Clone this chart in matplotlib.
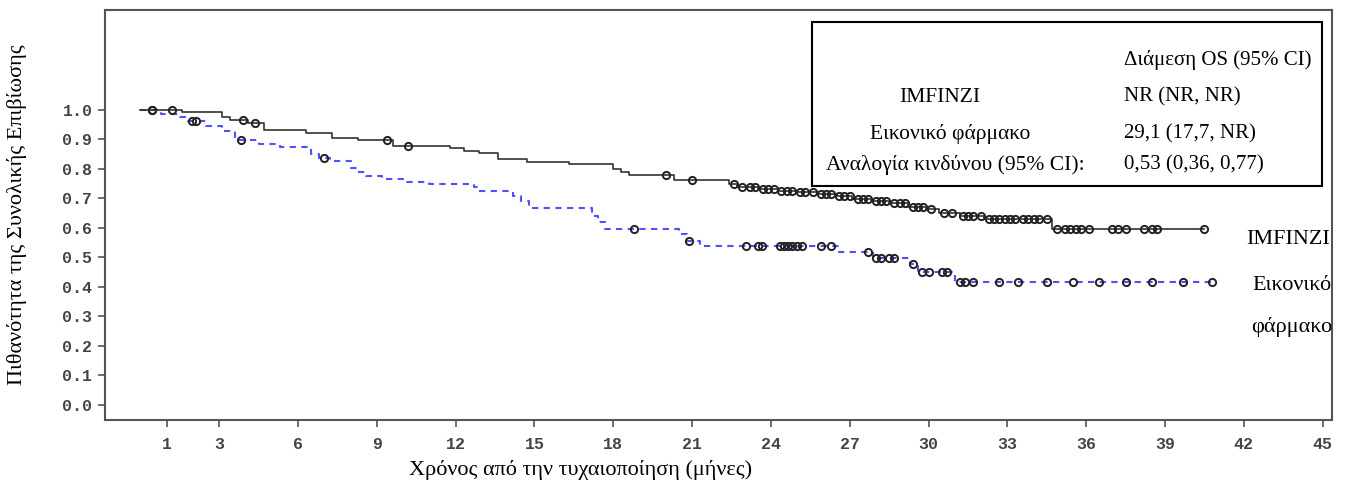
import numpy as np
import matplotlib
matplotlib.use('Agg')
import matplotlib.pyplot as plt
from matplotlib.patches import Rectangle

# IMFINZI arm: step drops (time in months, survival after the drop)
imf_time = [0, 1.6, 3.1, 3.4, 4.1, 4.7, 6.3, 7.3, 8.3, 9.6, 11.8, 12.3, 12.9, 13.6,
            14.7, 16.3, 18.0, 18.3, 18.6, 20.3, 22.4, 22.7, 23.5, 24.3, 25.0, 25.8,
            26.5, 27.1, 27.8, 28.5, 29.2, 29.9, 30.4, 31.2, 32.1, 34.7]
imf_surv = [1.0, 0.993, 0.975, 0.965, 0.955, 0.932, 0.922, 0.906, 0.898, 0.877, 0.870,
            0.862, 0.855, 0.835, 0.825, 0.817, 0.800, 0.790, 0.779, 0.763, 0.748,
            0.740, 0.733, 0.727, 0.722, 0.716, 0.708, 0.698, 0.692, 0.686, 0.672,
            0.664, 0.650, 0.642, 0.630, 0.597]
imf_end = 40.5
imf_cens = [0.45, 1.2, 3.9, 4.35, 9.4, 10.2, 20.0, 21.0,
            22.6, 22.9, 23.2, 23.4, 23.7, 23.9, 24.1, 24.4, 24.6, 24.8, 25.1, 25.3,
            25.6, 25.9, 26.1, 26.3, 26.6, 26.8, 27.0, 27.3, 27.5, 27.7, 28.0, 28.2,
            28.4, 28.7, 28.9, 29.1, 29.4, 29.6, 29.8, 30.1, 30.6, 30.9, 31.3, 31.5,
            31.7, 32.0, 32.3, 32.5, 32.7, 32.9, 33.1, 33.3, 33.6, 33.8, 34.0, 34.2,
            34.5, 34.9, 35.2, 35.4, 35.6, 35.8, 36.1, 37.0, 37.2, 37.5, 38.2, 38.5,
            38.7, 40.5]

# Placebo arm
plc_time = [0, 0.8, 1.5, 1.8, 2.5, 3.1, 3.6, 4.5, 5.3, 6.5, 6.8, 7.2, 8.0, 8.3, 8.6,
            9.2, 10.0, 11.0, 12.7, 12.9, 14.2, 14.5, 14.8, 17.2, 17.4, 17.7, 20.5,
            20.8, 21.3, 26.6, 27.9, 29.3, 29.6, 31.0]
plc_surv = [1.0, 0.985, 0.975, 0.962, 0.946, 0.930, 0.897, 0.885, 0.876, 0.850, 0.837,
            0.828, 0.805, 0.790, 0.776, 0.766, 0.757, 0.750, 0.740, 0.726, 0.710,
            0.690, 0.667, 0.640, 0.620, 0.598, 0.578, 0.557, 0.540, 0.520, 0.498,
            0.478, 0.450, 0.417]
plc_end = 40.8
plc_cens = [0.45, 1.95, 2.1, 3.84, 6.97, 18.8, 20.9, 23.05, 23.5, 23.65, 24.35, 24.5,
            24.65, 24.8, 25.0, 25.2, 25.9, 26.3, 27.7, 28.0, 28.2, 28.5, 28.7, 29.4,
            29.75, 30.0, 30.5, 30.7, 31.2, 31.4, 31.7, 32.7, 33.4, 34.5, 35.5, 36.5,
            37.5, 38.5, 39.7, 40.8]

x_ticks = [1, 3, 6, 9, 12, 15, 18, 21, 24, 27, 30, 33, 36, 39, 42, 45]
y_ticks = [0.0, 0.1, 0.2, 0.3, 0.4, 0.5, 0.6, 0.7, 0.8, 0.9, 1.0]

table_rows = [('', 'Διάμεση OS (95% CI)'),
              ('IMFINZI', 'NR (NR, NR)'),
              ('Εικονικό φάρμακο', '29,1 (17,7, NR)'),
              ('Αναλογία κινδύνου (95% CI):', '0,53 (0,36, 0,77)')]

serif = 'Liberation Serif'

fig = plt.figure(figsize=(13.52, 4.88), dpi=100)
ax = fig.add_axes([105/1352, 68/488, 1227/1352, 410/488])


def surv_at(times, surv, t):
    idx = np.searchsorted(times, t, side='right') - 1
    return np.array(surv)[idx]


# placebo curve (blue dashed)
ax.step(plc_time + [plc_end], plc_surv + [plc_surv[-1]], where='post',
        color='#5050ff', lw=1.5, dashes=(3, 2.6))
ax.plot(plc_cens, surv_at(plc_time, plc_surv, plc_cens), 'o', ms=5.2,
        mfc='none', mec='#222222', mew=1.4)

# IMFINZI curve (black solid)
ax.step(imf_time + [imf_end], imf_surv + [imf_surv[-1]], where='post',
        color='#333333', lw=1.2)
ax.plot(imf_cens, surv_at(imf_time, imf_surv, imf_cens), 'o', ms=5.2,
        mfc='none', mec='#222222', mew=1.4)

ax.set_xlim(-1.35, 45.36)
ax.set_ylim(-0.051, 1.339)
ax.set_xticks(x_ticks)
ax.set_yticks(y_ticks)
ax.set_yticklabels(['%.1f' % v for v in y_ticks])
for s in ax.spines.values():
    s.set_color('#555555')
    s.set_linewidth(1.5)
ax.tick_params(length=5, width=1.2, color='#555555', labelcolor='#444444',
               labelsize=12, pad=4)
ax.tick_params(axis='x', pad=7)
for lab in ax.get_xticklabels() + ax.get_yticklabels():
    lab.set_family('Liberation Mono')
    lab.set_weight('bold')

# table box
box_l, box_r, box_t, box_b = 812, 1322, 22, 186
fig.add_artist(Rectangle((box_l/1352, 1 - box_b/488), (box_r-box_l)/1352,
                         (box_b-box_t)/488, transform=fig.transFigure,
                         fill=True, facecolor='white', edgecolor='black', lw=1.5))
row_y = [60, 97, 134, 165]
left_cx = [948, 940, 950, 955]
for (a, b), yy, cx in zip(table_rows, row_y, left_cx):
    if a:
        fig.text(cx/1352, 1 - yy/488, a, ha='center', va='center',
                 family=serif, fontsize=15.5)
    fig.text(1124/1352, 1 - yy/488, b, ha='left', va='center',
             family=serif, fontsize=15)

# curve labels
fig.text(1330/1352, 1 - 240/488, 'IMFINZI', ha='right', va='center',
         family=serif, fontsize=16)
fig.text(1292/1352, 1 - 285/488, 'Εικονικό', ha='center', va='center',
         family=serif, fontsize=16)
fig.text(1292/1352, 1 - 327/488, 'φάρμακο', ha='center', va='center',
         family=serif, fontsize=16)

fig.text(581/1352, 1 - 470/488, 'Χρόνος από την τυχαιοποίηση (μήνες)',
         ha='center', va='center', family=serif, fontsize=16)
fig.text(17/1352, 1 - 215/488, 'Πιθανότητα της Συνολικής Επιβίωσης',
         ha='center', va='center', rotation=90, family=serif, fontsize=16)

fig.savefig('out.png', dpi=100)
